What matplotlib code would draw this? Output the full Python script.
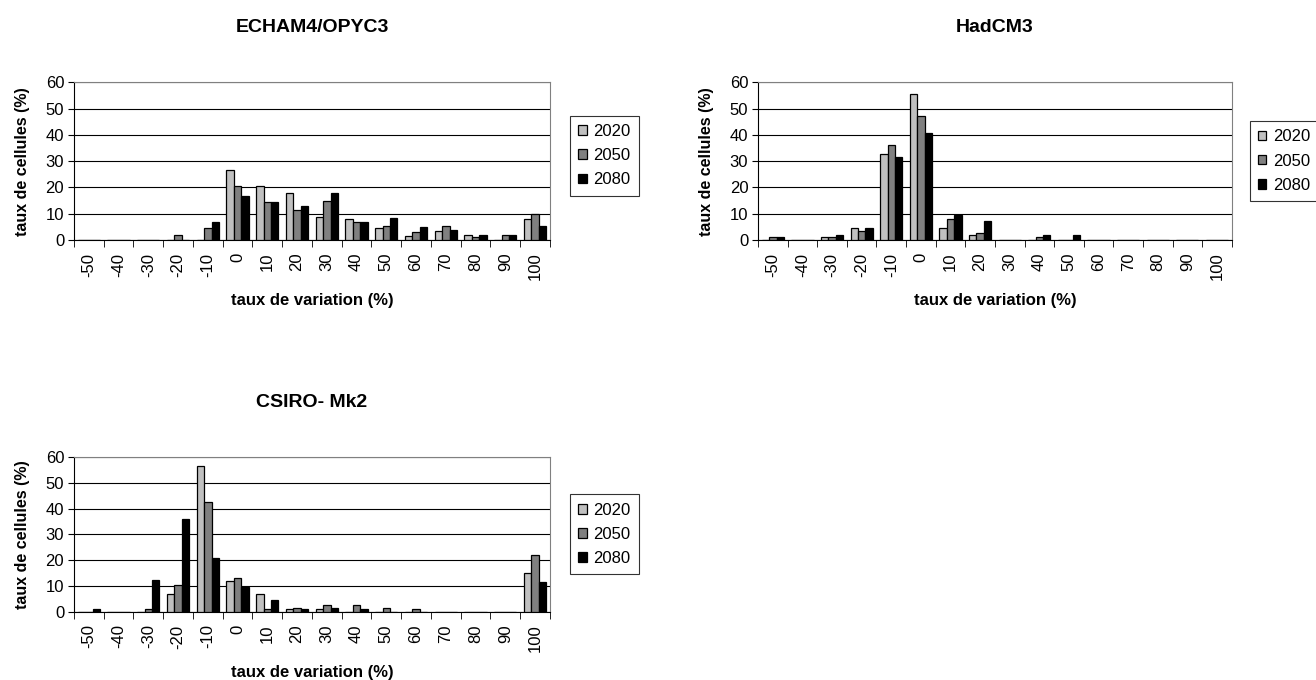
import numpy as np
import matplotlib
matplotlib.use("Agg")
import matplotlib.pyplot as plt

plt.rcParams['font.family'] = ['Liberation Sans', 'DejaVu Sans']

# classes of variation rate (%)
categories = [-50, -40, -30, -20, -10, 0, 10, 20, 30, 40, 50, 60, 70, 80, 90, 100]
years = ["2020", "2050", "2080"]

# ECHAM4/OPYC3
echam_2020 = [0, 0, 0, 0, 0, 26.5, 20.7, 17.8, 8.7, 8.1, 4.7, 1.4, 3.5, 1.9, 0, 8.1]
echam_2050 = [0, 0, 0, 1.9, 4.7, 20.7, 14.4, 11.5, 15.0, 6.9, 5.3, 3.0, 5.4, 1.3, 2.0, 9.8]
echam_2080 = [0, 0, 0, 0, 6.9, 16.8, 14.4, 12.8, 17.8, 6.9, 8.2, 4.8, 3.7, 2.0, 2.0, 5.3]

# HadCM3
had_2020 = [0, 0, 1.0, 4.5, 32.9, 55.6, 4.5, 1.8, 0, 0, 0, 0, 0, 0, 0, 0]
had_2050 = [1.0, 0, 1.0, 3.5, 36.1, 47.1, 7.9, 2.8, 0, 1.0, 0, 0, 0, 0, 0, 0]
had_2080 = [1.0, 0, 1.8, 4.5, 31.7, 40.9, 9.7, 7.4, 0, 1.8, 1.8, 0, 0, 0, 0, 0]

# CSIRO-Mk2
csiro_2020 = [0, 0, 0, 6.8, 56.5, 12.1, 6.8, 1.0, 1.0, 0, 0, 0, 0, 0, 0, 15.1]
csiro_2050 = [0, 0, 1.0, 10.3, 42.5, 13.2, 1.0, 1.5, 2.7, 2.7, 1.5, 1.0, 0, 0, 0, 22.2]
csiro_2080 = [1.0, 0, 12.3, 36.1, 20.9, 9.8, 4.5, 1.0, 1.7, 1.0, 0, 0, 0, 0, 0, 11.6]

colors = ["#c0c0c0", "#808080", "#000000"]


def draw_chart(fig, rect, title, series, leg_x, leg_y):
    ax = fig.add_axes(rect)
    x = np.arange(len(categories))
    w = 0.25
    for i, vals in enumerate(series):
        ax.bar(x + (i - 1) * w, vals, width=w, color=colors[i],
               edgecolor="black", linewidth=0.9, label=years[i], zorder=3)

    ax.set_xlim(-0.5, len(categories) - 0.5)
    ax.set_ylim(0, 60)
    ax.set_yticks(range(0, 61, 10))
    ax.tick_params(axis="y", labelsize=12, length=4, pad=3, direction="out")
    ax.yaxis.grid(True, color="black", linewidth=0.8, zorder=0)

    # labels centred under each class, tick marks between classes
    ax.set_xticks(x)
    ax.set_xticklabels([str(c) for c in categories], rotation=90, fontsize=12)
    ax.tick_params(axis="x", which="major", length=0, pad=9)
    ax.set_xticks(np.arange(-0.5, len(categories), 1), minor=True)
    ax.tick_params(axis="x", which="minor", length=5, direction="out")

    for side in ["top", "right"]:
        ax.spines[side].set_color("#808080")
    for side in ["left", "bottom"]:
        ax.spines[side].set_color("black")

    ax.set_xlabel("taux de variation (%)", fontsize=12, fontweight="bold", labelpad=9)
    ax.set_ylabel("taux de cellules (%)", fontsize=11.5, fontweight="bold", labelpad=11)
    ax.set_title(title, fontsize=14, fontweight="bold", pad=36)

    leg = ax.legend(loc="center left", bbox_to_anchor=(leg_x, leg_y), fontsize=12,
                    frameon=True, fancybox=False, edgecolor="black",
                    borderaxespad=0, handlelength=0.5, handleheight=0.5,
                    handletextpad=0.4, labelspacing=0.55, borderpad=0.5)
    leg.get_frame().set_linewidth(0.8)
    return ax


fig = plt.figure(figsize=(13.16, 6.8), dpi=100)

draw_chart(fig, [0.0562, 0.647, 0.3617, 0.232], "ECHAM4/OPYC3",
           [echam_2020, echam_2050, echam_2080], 1.042, 0.535)
draw_chart(fig, [0.576, 0.647, 0.360, 0.232], "HadCM3",
           [had_2020, had_2050, had_2080], 1.038, 0.5)
draw_chart(fig, [0.0562, 0.10, 0.3617, 0.228], "CSIRO- Mk2",
           [csiro_2020, csiro_2050, csiro_2080], 1.042, 0.5)

fig.savefig("out.png", dpi=100)
